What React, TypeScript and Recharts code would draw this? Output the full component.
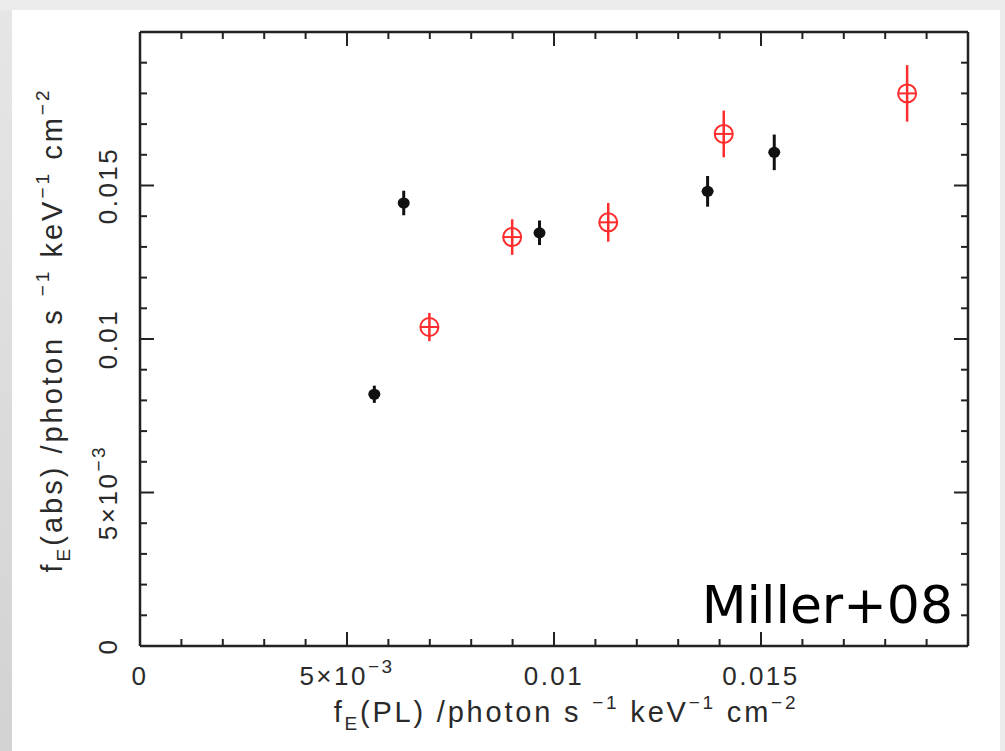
import { ScatterChart, Scatter, XAxis, YAxis, ErrorBar, Label } from "recharts";

// minor ticks every 1e-3, majors every 5e-3
const X_TICKS = [
  0, 0.001, 0.002, 0.003, 0.004, 0.005, 0.006, 0.007, 0.008, 0.009, 0.01,
  0.011, 0.012, 0.013, 0.014, 0.015, 0.016, 0.017, 0.018, 0.019, 0.02,
];
const Y_TICKS = X_TICKS;
const MAJOR_TICKS = [0, 0.005, 0.01, 0.015];
const MAJOR_LABELS = ["0", "5×10", "0.01", "0.015"];
const MAJOR_SUPS = ["", "−3", "", ""];

// black: filled points
const BLACK_X = [0.00566, 0.00637, 0.00965, 0.01371, 0.01532];
const BLACK_Y = [0.0082, 0.01443, 0.01346, 0.01481, 0.01608];
const BLACK_ERR = [0.00028, 0.0004, 0.0004, 0.0005, 0.00058];

// red: open circles
const RED_X = [0.00699, 0.00899, 0.01131, 0.0141, 0.01853];
const RED_Y = [0.01039, 0.01332, 0.0138, 0.01668, 0.018];
const RED_ERR = [0.00046, 0.00058, 0.00063, 0.00076, 0.00092];

const blackData = BLACK_X.map((x, i) => ({ x, y: BLACK_Y[i], err: BLACK_ERR[i] }));
const redData = RED_X.map((x, i) => ({ x, y: RED_Y[i], err: RED_ERR[i] }));

const AXIS = "#222";
const TXT = "#2a2a2a";
const RED = "#ff2d2d";
const FONT = "'Liberation Sans', Arial, Helvetica, sans-serif";

function findMajor(v: number) {
  return MAJOR_TICKS.findIndex((m) => Math.abs(m - v) < 1e-9);
}

function TickText({ i, x, y, rotate }: { i: number; x: number; y: number; rotate?: boolean }) {
  return (
    <text
      x={x}
      y={y}
      transform={rotate ? `rotate(-90 ${x} ${y})` : undefined}
      textAnchor="middle"
      fontSize={26}
      letterSpacing={2.5}
      fill={TXT}
      fontFamily={FONT}
    >
      {MAJOR_LABELS[i]}
      {MAJOR_SUPS[i] && (
        <tspan dy={-12} fontSize={19}>
          {MAJOR_SUPS[i]}
        </tspan>
      )}
    </text>
  );
}

function BottomTick(props: any) {
  const { x, y, payload } = props;
  const i = findMajor(payload.value);
  return (
    <g>
      <line x1={x} x2={x} y1={y} y2={y - (i >= 0 ? 14 : 7)} stroke={AXIS} strokeWidth={2} />
      {i >= 0 && <TickText i={i} x={x} y={y + 39} />}
    </g>
  );
}

function TopTick(props: any) {
  const { x, y, payload } = props;
  const len = findMajor(payload.value) >= 0 ? 14 : 7;
  return <line x1={x} x2={x} y1={y} y2={y + len} stroke={AXIS} strokeWidth={2} />;
}

function LeftTick(props: any) {
  const { x, y, payload } = props;
  const i = findMajor(payload.value);
  return (
    <g>
      <line x1={x} x2={x + (i >= 0 ? 14 : 7)} y1={y} y2={y} stroke={AXIS} strokeWidth={2} />
      {i >= 0 && <TickText i={i} x={x - 23} y={y} rotate />}
    </g>
  );
}

function RightTick(props: any) {
  const { x, y, payload } = props;
  const len = findMajor(payload.value) >= 0 ? 14 : 7;
  return <line x1={x} x2={x - len} y1={y} y2={y} stroke={AXIS} strokeWidth={2} />;
}

function XTitle() {
  return (
    <text
      x={566}
      y={722}
      textAnchor="middle"
      fontSize={29}
      letterSpacing={2.8}
      fill={TXT}
      fontFamily={FONT}
      style={{ whiteSpace: "pre" }}
    >
      f<tspan dy={8} fontSize={19}>E</tspan>
      <tspan dy={-8}>(PL) /photon s </tspan>
      <tspan dy={-13} fontSize={19}>−1</tspan>
      <tspan dy={13}> keV</tspan>
      <tspan dy={-13} fontSize={19}>−1</tspan>
      <tspan dy={13}> cm</tspan>
      <tspan dy={-13} fontSize={19}>−2</tspan>
    </text>
  );
}

function YTitle() {
  const cx = 62;
  const cy = 330;
  return (
    <text
      x={cx}
      y={cy}
      transform={`rotate(-90 ${cx} ${cy})`}
      textAnchor="middle"
      fontSize={29}
      letterSpacing={3}
      fill={TXT}
      fontFamily={FONT}
      style={{ whiteSpace: "pre" }}
    >
      f<tspan dy={8} fontSize={19}>E</tspan>
      <tspan dy={-8}>(abs) /photon s </tspan>
      <tspan dy={-13} fontSize={19}>−1</tspan>
      <tspan dy={13}> keV</tspan>
      <tspan dy={-13} fontSize={19}>−1</tspan>
      <tspan dy={13}> cm</tspan>
      <tspan dy={-13} fontSize={19}>−2</tspan>
    </text>
  );
}

function Tag() {
  return (
    <text x={953} y={623} textAnchor="end" fontSize={52} fill="#000" fontFamily="'DejaVu Sans', sans-serif">
      Miller+08
    </text>
  );
}

function BlackDot(props: any) {
  const { cx, cy } = props;
  return <ellipse cx={cx} cy={cy} rx={6} ry={5.5} fill="#111" />;
}

function RedRing(props: any) {
  const { cx, cy } = props;
  return (
    <g>
      <circle cx={cx} cy={cy} r={9} fill="none" stroke={RED} strokeWidth={2} />
      <line x1={cx - 9} x2={cx + 9} y1={cy} y2={cy} stroke={RED} strokeWidth={2} />
    </g>
  );
}

export default function App() {
  return (
    <div style={{ position: "absolute", left: 0, top: 0, width: 1005, height: 751, background: "#ebebeb", overflow: "hidden" }}>
      <div
        style={{
          position: "absolute",
          left: 0,
          top: 10,
          width: 12,
          height: 741,
          background: "linear-gradient(to bottom, #e6e6e6, #d2d2d2)",
        }}
      />
      <div style={{ position: "absolute", left: 12, top: 10, width: 988, height: 741, background: "#fff" }} />
      <div style={{ position: "absolute", left: 0, top: 0 }}>
        <ScatterChart width={1005} height={751} margin={{ top: 22, right: 27, bottom: 45, left: 40 }}>
          <XAxis
            xAxisId="b"
            type="number"
            dataKey="x"
            domain={[0, 0.02]}
            ticks={X_TICKS}
            interval={0}
            allowDataOverflow
            height={60}
            tickSize={0}
            tickMargin={0}
            tickLine={false}
            tick={<BottomTick />}
            axisLine={{ stroke: AXIS, strokeWidth: 2.5 }}
          >
            <Label content={<XTitle />} />
          </XAxis>
          <XAxis
            xAxisId="t"
            orientation="top"
            type="number"
            dataKey="x"
            domain={[0, 0.02]}
            ticks={X_TICKS}
            interval={0}
            allowDataOverflow
            height={10}
            tickSize={0}
            tickMargin={0}
            tickLine={false}
            tick={<TopTick />}
            axisLine={{ stroke: AXIS, strokeWidth: 2.5 }}
          />
          <YAxis
            yAxisId="l"
            type="number"
            dataKey="y"
            domain={[0, 0.02]}
            ticks={Y_TICKS}
            interval={0}
            allowDataOverflow
            width={100}
            tickSize={0}
            tickMargin={0}
            tickLine={false}
            tick={<LeftTick />}
            axisLine={{ stroke: AXIS, strokeWidth: 2.5 }}
          >
            <Label content={<YTitle />} />
          </YAxis>
          <YAxis
            yAxisId="r"
            orientation="right"
            type="number"
            dataKey="y"
            domain={[0, 0.02]}
            ticks={Y_TICKS}
            interval={0}
            allowDataOverflow
            width={10}
            tickSize={0}
            tickMargin={0}
            tickLine={false}
            tick={<RightTick />}
            axisLine={{ stroke: AXIS, strokeWidth: 2.5 }}
          >
            <Label content={<Tag />} />
          </YAxis>
          {/* keeps the mirrored frame axes bound to data */}
          <Scatter xAxisId="t" yAxisId="r" data={blackData} shape={() => <g />} isAnimationActive={false} />
          <Scatter xAxisId="b" yAxisId="l" data={blackData} shape={<BlackDot />} isAnimationActive={false}>
            <ErrorBar dataKey="err" direction="y" width={0} stroke="#111" strokeWidth={3} isAnimationActive={false} />
          </Scatter>
          <Scatter xAxisId="b" yAxisId="l" data={redData} shape={<RedRing />} isAnimationActive={false}>
            <ErrorBar dataKey="err" direction="y" width={0} stroke={RED} strokeWidth={2.5} isAnimationActive={false} />
          </Scatter>
        </ScatterChart>
      </div>
    </div>
  );
}
